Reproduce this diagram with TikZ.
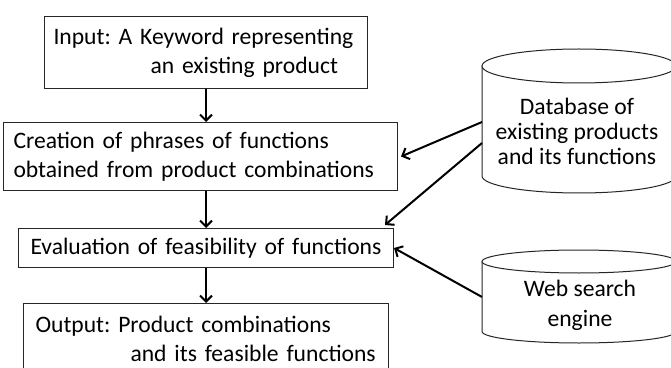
\documentclass[tikz,border=0pt]{standalone}
\usepackage{fontspec}
\setmainfont{Carlito}
\frenchspacing
\usetikzlibrary{arrows.meta}
\begin{document}
\begin{tikzpicture}[x=1pt,y=1pt,
  box/.style={draw=black!85, line width=1pt, align=left, anchor=north west,
    font=\fontsize{23.6}{29}\selectfont, text=black, inner ysep=0pt},
  cyltext/.style={align=center, text=black},
  arr/.style={line width=2pt, -{Straight Barb[length=6pt,width=12pt]}},
  cyl/.style={draw=black!85, line width=1pt, fill=white}]
\useasboundingbox (0,0) rectangle (671,367);
\clip (0,0) rectangle (671,367);
% boxes (top-left corners, text widths)
\node[box, inner xsep=9pt, text width=305pt, minimum height=72pt] (inp) at (44,351)
  {Input: A Keyword representing\\\hspace*{97pt}an existing product};
\node[box, inner xsep=10pt, text width=374pt, minimum height=68pt] (cre) at (3,245)
  {Creation of phrases of functions\\obtained from product combinations};
\node[box, inner xsep=12pt, text width=351pt, minimum height=39pt] (eva) at (18,139)
  {Evaluation of feasibility of functions};
\node[box, inner xsep=12pt, text width=341pt, minimum height=70pt] (out) at (23,64)
  {Output: Product combinations\\\hspace*{95pt}and its feasible functions};
% cylinders
\path[cyl] (482,301) -- (482,191) arc[start angle=180, end angle=360, x radius=97, y radius=17]
  -- (676,301);
\draw[cyl] (579,301) ellipse[x radius=97, y radius=17];
\node[cyltext, font=\fontsize{23.6}{25}\selectfont] (db) at (577,236)
  {Database of\\existing products\\and its functions};
\path[cyl] (482,105.5) -- (482,35.5) arc[start angle=180, end angle=360, x radius=97, y radius=11.5]
  -- (676,105.5);
\draw[cyl] (579,105.5) ellipse[x radius=97, y radius=11.5];
\node[cyltext, font=\fontsize{23.6}{30}\selectfont] (web) at (580,62)
  {Web search\\engine};
% connector ends
\coordinate (db1) at (482,245);
\coordinate (db2) at (482,224);
\coordinate (we1) at (482,70);
\coordinate (evne) at (385,142);
% vertical arrows
\draw[arr] (inp.south) -- (inp.south |- cre.north);
\draw[arr] (eva.north |- cre.south) -- (eva.north);
\draw[arr] (eva.south) -- (eva.south |- out.north);
% side arrows
\draw[arr] (db1) -- ([xshift=3pt]cre.east);
\draw[arr] (db2) -- (evne);
\draw[arr] (we1) -- (eva.east);
\end{tikzpicture}
\end{document}
